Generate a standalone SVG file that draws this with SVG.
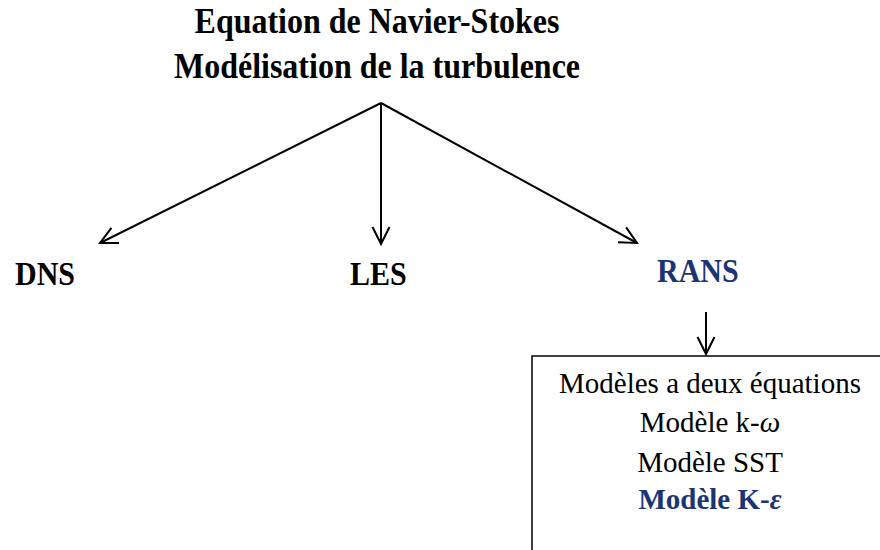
<svg xmlns="http://www.w3.org/2000/svg" width="880" height="550" viewBox="0 0 880 550">
  <style>
    .title { font-family: "Liberation Serif", "Times New Roman", serif; font-weight: bold; font-size: 32px; fill: #000; text-anchor: middle; }
    .branch { font-family: "Liberation Serif", "Times New Roman", serif; font-weight: bold; font-size: 30px; fill: #000; }
    .rans { fill: #1b3474; }
    .item { font-family: "Liberation Serif", "Times New Roman", serif; font-size: 29px; fill: #000; text-anchor: middle; }
    .item-key { font-weight: bold; fill: #1b3474; }
    .conn { stroke: #000; stroke-width: 2; fill: none; marker-end: url(#open-arrow); }
  </style>
  <defs>
    <marker id="open-arrow" viewBox="0 0 20 20" refX="18" refY="10" markerWidth="20" markerHeight="20" markerUnits="userSpaceOnUse" orient="auto">
      <path d="M1,1.5 L18,10 L1,18.5" fill="none" stroke="#000" stroke-width="2"/>
    </marker>
  </defs>
  <rect width="880" height="550" fill="#fff"/>

  <g id="root">
    <text class="title" transform="translate(377,33) scale(1,1.1)">Equation de Navier-Stokes</text>
    <text class="title" transform="translate(377,78) scale(1,1.1)">Modélisation de la turbulence</text>
  </g>

  <g id="dns">
    <text class="branch" transform="translate(15,285) scale(1,1.1)">DNS</text>
  </g>
  <g id="les">
    <text class="branch" transform="translate(350,285) scale(1,1.1)">LES</text>
  </g>
  <g id="rans">
    <text class="branch rans" transform="translate(657,282) scale(1,1.1)">RANS</text>
  </g>

  <g id="models">
    <rect x="532" y="356" width="360" height="210" fill="#fff" stroke="#000" stroke-width="1.5"/>
    <text class="item" transform="translate(710,393) scale(1,1.05)">Modèles a deux équations</text>
    <text class="item" transform="translate(710,432) scale(1,1.05)">Modèle k-<tspan font-style="italic">ω</tspan></text>
    <text class="item" transform="translate(710,472) scale(1,1.05)">Modèle SST</text>
    <text class="item item-key" transform="translate(710,509) scale(1,1.05)">Modèle K-<tspan font-style="italic">ε</tspan></text>
  </g>

  <g id="connectors">
    <path class="conn" d="M381,103 L100,243"/>
    <path class="conn" d="M381,103 L381,244"/>
    <path class="conn" d="M381,103 L637,243"/>
    <path class="conn" d="M706,312 L706,354"/>
  </g>
</svg>
